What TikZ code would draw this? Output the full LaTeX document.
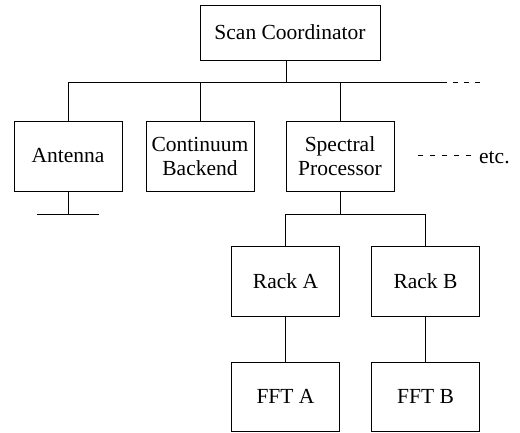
\documentclass[tikz,border=0pt]{standalone}
\usepackage{fontspec}
\setmainfont{Liberation Serif}
\usepackage{tikz}

\tikzset{
  unit/.style={draw, line width=0.9pt, minimum width=108pt, minimum height=70pt,
    inner sep=1pt, align=center, font=\fontsize{21.5}{24}\selectfont},
  wire/.style={line width=0.9pt},
}

\begin{document}
\begin{tikzpicture}[x=1pt, y=-1pt]
\useasboundingbox (0,0) rectangle (520,432);

\node[unit, minimum width=180pt, minimum height=55pt] (scan) at (290,32.5) {Scan Coordinator};

\node[unit] (antenna) at (68,156) {Antenna};
\node[unit] (continuum) at (200,156) {Continuum\\Backend};
\node[unit] (spectral) at (340,156) {Spectral\\Processor};

\node[unit] (rackA) at (285.5,281) {Rack A};
\node[unit] (rackB) at (425.5,281) {Rack B};

\node[unit, minimum height=69pt] (fftA) at (285.5,396.5) {FFT A};
\node[unit, minimum height=69pt] (fftB) at (425.5,396.5) {FFT B};

\node[anchor=base west, inner sep=0pt, font=\fontsize{21.5}{24}\selectfont] (etc) at (479,163) {etc.};

\coordinate (bus) at (286,82);
\coordinate (busW) at (68,82);
\coordinate (busE) at (447,82);
\coordinate (busEnd) at (481,82);
\coordinate (gnd) at (68,214);
\coordinate (split) at (340,214);
\coordinate (etcdash) at (418,155);

\draw[wire] (scan.south -| bus) -- (bus);
\draw[wire] (busW) -- (busE);
\draw[wire, dash pattern=on 5pt off 6pt] ([xshift=6pt]busE) -- (busEnd);

\draw[wire] (antenna.north) -- (antenna.north |- bus);
\draw[wire] (continuum.north) -- (continuum.north |- bus);
\draw[wire] (spectral.north) -- (spectral.north |- bus);

\draw[wire] (antenna.south) -- (gnd);
\draw[wire] ([xshift=-31pt]gnd) -- ([xshift=31pt]gnd);

\draw[wire] (spectral.south) -- (split);
\draw[wire] (rackA.north) -- (rackA.north |- split) -- (rackB.north |- split) -- (rackB.north);
\draw[wire] (rackA) -- (fftA);
\draw[wire] (rackB) -- (fftB);

\draw[wire, dash pattern=on 5pt off 7pt] (etcdash) -- ([xshift=-6pt]etc.west |- etcdash);

\end{tikzpicture}
\end{document}
